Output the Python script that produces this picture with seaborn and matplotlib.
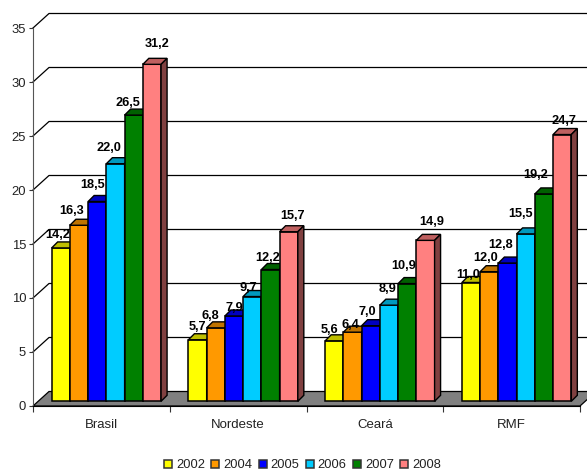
import pandas as pd
import matplotlib
matplotlib.use("Agg")
import matplotlib.pyplot as plt
import matplotlib.colors as mcolors
from matplotlib.patches import Polygon
import seaborn as sns

# Dados
regioes = ["Brasil", "Nordeste", "Ceará", "RMF"]
anos = ["2002", "2004", "2005", "2006", "2007", "2008"]
v2002 = [14.2, 5.7, 5.6, 11.0]
v2004 = [16.3, 6.8, 6.4, 12.0]
v2005 = [18.5, 7.9, 7.0, 12.8]
v2006 = [22.0, 9.7, 8.9, 15.5]
v2007 = [26.5, 12.2, 10.9, 19.2]
v2008 = [31.2, 15.7, 14.9, 24.7]
cores = ["#FFFF00", "#FF9900", "#0000FF", "#00CCFF", "#008000", "#FF8080"]
y_ticks = [0, 5, 10, 15, 20, 25, 30, 35]

# ajuste manual dos rotulos (pixels, por regiao e ano)
nudge_x = [-3, -7, -5, -7, -6, 5,  0, -5, 0, -3.5, -3, 4,  -5, -2, -3, -1, -4, 6,  -3, -4, -7, -5, -8, 2]
nudge_y = [14, 15, 17, 17, 13, 21,  13.5, 13, 8.5, 10, 13, 17,  12, 8, 15, 17, 19, 19,  9, 15, 19, 21, 20, 15]

linhas = []
for ano, vals in zip(anos, [v2002, v2004, v2005, v2006, v2007, v2008]):
    for r, v in zip(regioes, vals):
        linhas.append({"regiao": r, "ano": ano, "valor": v})
df = pd.DataFrame(linhas)

plt.rcParams["font.family"] = ["Liberation Sans", "DejaVu Sans"]

W, H = 587, 472
fig = plt.figure(figsize=(W / 100, H / 100), dpi=100)
ax = fig.add_axes([33 / W, (H - 406) / H, 547 / W, 378 / H])

sns.barplot(data=df, x="regiao", y="valor", hue="ano", order=regioes, hue_order=anos,
            palette=cores, saturation=1, edgecolor="black", linewidth=1.1, ax=ax, errorbar=None)
ax.set_xlim(-0.5, 3.5)
ax.set_ylim(0, 35)

barras = sorted(ax.patches, key=lambda p: p.get_x())
barras = [p for p in barras if p.get_height() > 0]

# profundidade do "3D" em unidades dos dados
px_x = 547 / 4
px_y = 378 / 35
bar_dx, bar_dy = 5 / px_x, 4.7 / px_y
depth_x, depth_y = 6 / px_x, 6 / px_y
wall_x, wall_y = 16 / px_x, 14.5 / px_y

# parede do fundo e grade
for t in y_ticks[1:]:
    ax.plot([-0.5, -0.5 + wall_x, 3.5 + wall_x], [t, t + wall_y, t + wall_y],
            color="black", lw=0.9, clip_on=False, zorder=1)

# chao
ax.add_patch(Polygon([(-0.5, 0), (3.5, 0), (3.5 + wall_x, wall_y), (-0.5 + wall_x, wall_y)],
                     facecolor="#808080", edgecolor="black", lw=0.9, clip_on=False, zorder=2))

def escurece(cor, f):
    r, g, b = mcolors.to_rgb(cor)
    return (r * f, g * f, b * f)

for i, p in enumerate(barras):
    x0 = p.get_x() + bar_dx
    x1 = x0 + p.get_width()
    h = p.get_height()
    topo = h + bar_dy
    cor = p.get_facecolor()
    p.set_x(x0)
    p.set_y(bar_dy)
    p.set_clip_on(False)
    p.set_zorder(10 + i)
    ax.add_patch(Polygon([(x0, topo), (x1, topo), (x1 + depth_x, topo + depth_y), (x0 + depth_x, topo + depth_y)],
                         facecolor=escurece(cor, 0.75), edgecolor="black", lw=1, clip_on=False, zorder=10 + i))
    ax.add_patch(Polygon([(x1, bar_dy), (x1, topo), (x1 + depth_x, topo + depth_y), (x1 + depth_x, bar_dy + depth_y)],
                         facecolor=escurece(cor, 0.5), edgecolor="black", lw=1, clip_on=False, zorder=10 + i))
    ax.annotate(f"{h:.1f}".replace(".", ","), xy=((x0 + x1) / 2, topo),
                xytext=(nudge_x[i] * 0.72, (nudge_y[i] - 1) * 0.72), textcoords="offset points",
                ha="center", va="center", fontsize=9.2, fontweight="bold", color="black",
                annotation_clip=False, zorder=100)

# eixos
sns.despine(ax=ax, top=True, right=True)
ax.spines["left"].set_color("#555555")
ax.spines["left"].set_zorder(3)
ax.spines["bottom"].set_color("black")
ax.spines["bottom"].set_zorder(3)
ax.set_xlabel("")
ax.set_ylabel("")
ax.set_yticks(y_ticks)
ax.tick_params(axis="y", length=3, width=0.8, color="#333333", labelsize=9.4, labelcolor="#222222", pad=2)
ax.set_xticks(range(len(regioes)))
ax.set_xticklabels(regioes)
ax.tick_params(axis="x", which="major", length=0, labelsize=9.5, labelcolor="#222222", pad=9.5)
ax.set_xticks([-0.5, 0.5, 1.5, 2.5, 3.5], minor=True)
ax.tick_params(axis="x", which="minor", length=4, width=0.8, color="#333333")

handles, labels = ax.get_legend_handles_labels()
ax.get_legend().remove()
leg = fig.legend(handles, labels, loc="center", bbox_to_anchor=(302.5 / W, (H - 465.5) / H), ncol=6, frameon=False,
                 fontsize=9.3, handlelength=0.62, handleheight=0.62, handletextpad=0.31, columnspacing=0.49,
                 borderpad=0, labelcolor="#222222")
for h in leg.legend_handles:
    h.set_edgecolor("#333333")

fig.savefig("out.png", dpi=100)
